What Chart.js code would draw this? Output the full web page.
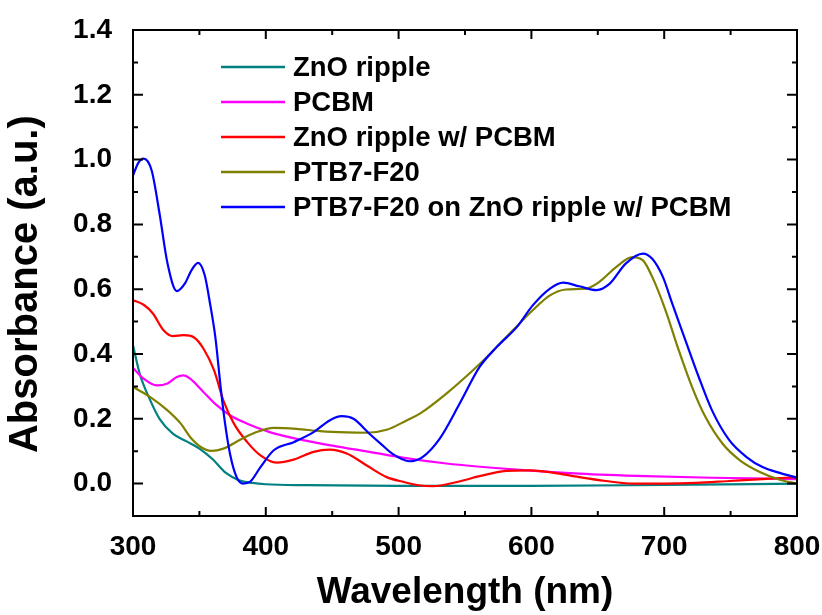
<!DOCTYPE html>
<html><head><meta charset="utf-8">
<script src="https://cdn.jsdelivr.net/npm/chart.js@4.4.1/dist/chart.umd.min.js"></script>
<style>html,body{margin:0;padding:0;background:#fff;} canvas{display:block;}</style>
</head><body>
<canvas id="c" width="822" height="615"></canvas>
<script>
// ---- data ----
const seriesLabels = ["ZnO ripple", "PCBM", "ZnO ripple w/ PCBM", "PTB7-F20", "PTB7-F20 on ZnO ripple w/ PCBM"];
const seriesColors = ["#008080", "#ff00ff", "#ff0000", "#808000", "#0000ff"];

const wlZnO  = [300, 305, 313, 320, 330, 340, 350, 360, 370, 380, 390, 400, 430, 500, 600, 700, 800];
const absZnO = [0.427, 0.34, 0.257, 0.2, 0.154, 0.131, 0.108, 0.075, 0.033, 0.01, 0.002, -0.002, -0.005, -0.007, -0.007, -0.004, 0.0];

const wlPCBM  = [300, 308, 318, 326, 333, 338, 343, 353, 363, 373, 386, 403, 428, 453, 478, 503, 536, 586, 636, 686, 736, 800];
const absPCBM = [0.357, 0.324, 0.303, 0.309, 0.329, 0.334, 0.324, 0.283, 0.242, 0.211, 0.185, 0.159, 0.134, 0.115, 0.098, 0.080, 0.062, 0.044, 0.031, 0.023, 0.018, 0.014];

const wlZnOPCBM  = [300, 308, 315, 323, 330, 338, 346, 353, 361, 368, 376, 386, 396, 408, 421, 436, 448, 461, 476, 491, 504, 515, 526, 544, 561, 581, 599, 616, 636, 656, 676, 699, 724, 749, 774, 800];
const absZnOPCBM = [0.566, 0.552, 0.525, 0.473, 0.455, 0.458, 0.451, 0.417, 0.35, 0.257, 0.185, 0.128, 0.087, 0.065, 0.074, 0.098, 0.105, 0.093, 0.056, 0.020, 0.005, -0.005, -0.008, 0.005, 0.023, 0.039, 0.041, 0.034, 0.02, 0.008, 0.0, 0.0, 0.002, 0.008, 0.014, 0.02];

const wlPTB7  = [300, 313, 326, 336, 343, 351, 359, 368, 381, 393, 406, 423, 441, 461, 476, 491, 506, 516, 536, 556, 569, 586, 601, 614, 626, 641, 651, 664, 676, 684, 691, 701, 711, 721, 731, 744, 757, 772, 787, 800];
const absPTB7 = [0.298, 0.267, 0.226, 0.185, 0.144, 0.113, 0.101, 0.108, 0.136, 0.159, 0.172, 0.169, 0.162, 0.158, 0.157, 0.166, 0.195, 0.216, 0.278, 0.35, 0.401, 0.473, 0.535, 0.581, 0.599, 0.602, 0.622, 0.669, 0.699, 0.689, 0.638, 0.535, 0.411, 0.298, 0.206, 0.123, 0.072, 0.036, 0.012, 0.0];

const wlStack  = [300, 304, 308, 314, 320, 326, 333, 339, 344, 349, 354, 358, 362, 366, 369, 373, 378, 383, 388, 396, 406, 421, 436, 448, 457, 466, 478, 486, 496, 508, 518, 531, 546, 561, 574, 589, 601, 614, 624, 636, 649, 659, 671, 684, 691, 699, 706, 716, 726, 736, 749, 762, 774, 787, 800];
const absStack = [0.951, 0.99, 1.003, 0.967, 0.833, 0.679, 0.594, 0.617, 0.658, 0.681, 0.643, 0.556, 0.452, 0.298, 0.195, 0.093, 0.020, 0.0, 0.005, 0.051, 0.103, 0.128, 0.159, 0.195, 0.208, 0.20, 0.154, 0.125, 0.09, 0.069, 0.082, 0.139, 0.247, 0.36, 0.422, 0.483, 0.55, 0.602, 0.62, 0.609, 0.597, 0.617, 0.679, 0.71, 0.694, 0.638, 0.556, 0.442, 0.329, 0.226, 0.134, 0.082, 0.051, 0.033, 0.018];

const xMajorTicks = [300, 400, 500, 600, 700, 800];
const xMinorTicks = [350, 450, 550, 650, 750];
const yMajorTicks = [0.0, 0.2, 0.4, 0.6, 0.8, 1.0, 1.2, 1.4];
const yMinorTicks = [0.1, 0.3, 0.5, 0.7, 0.9, 1.1, 1.3];

const xTitle = "Wavelength (nm)";
const yTitle = "Absorbance (a.u.)";

// ---- build ----
const FONT = "'Liberation Sans', Arial, Helvetica, sans-serif";
const pairs = [[wlZnO, absZnO], [wlPCBM, absPCBM], [wlZnOPCBM, absZnOPCBM], [wlPTB7, absPTB7], [wlStack, absStack]];
const datasets = pairs.map((p, i) => ({
  label: seriesLabels[i],
  data: p[0].map((x, k) => ({x: x, y: p[1][k]})),
  borderColor: seriesColors[i],
  backgroundColor: seriesColors[i],
  borderWidth: 2.2,
  pointRadius: 0,
  fill: false,
  cubicInterpolationMode: 'monotone',
  order: 5 - i
}));

const framePlugin = {
  id: 'frame',
  afterDatasetsDraw(chart) {
    const {ctx, chartArea: a, scales} = chart;
    const xs = scales.x, ys = scales.y;
    ctx.save();
    ctx.strokeStyle = '#000';
    ctx.lineWidth = 2;
    ctx.strokeRect(a.left, a.top, a.right - a.left, a.bottom - a.top);
    const tick = (vals, len, isX) => {
      vals.forEach(v => {
        ctx.beginPath();
        if (isX) {
          const p = xs.getPixelForValue(v);
          ctx.moveTo(p, a.bottom); ctx.lineTo(p, a.bottom - len);
          ctx.moveTo(p, a.top); ctx.lineTo(p, a.top + len);
        } else {
          const p = ys.getPixelForValue(v);
          ctx.moveTo(a.left, p); ctx.lineTo(a.left + len, p);
          ctx.moveTo(a.right, p); ctx.lineTo(a.right - len, p);
        }
        ctx.stroke();
      });
    };
    tick(xMajorTicks, 9, true);
    tick(xMinorTicks, 5, true);
    tick(yMajorTicks, 10, false);
    tick(yMinorTicks, 5, false);
    ctx.restore();
  }
};

const legendPlugin = {
  id: 'customLegend',
  afterDraw(chart) {
    const ctx = chart.ctx;
    ctx.save();
    ctx.font = "bold 27.5px " + FONT;
    ctx.textBaseline = 'middle';
    ctx.textAlign = 'left';
    chart.data.datasets.forEach((ds, i) => {
      const y = 67 + i * 35;
      ctx.strokeStyle = ds.borderColor;
      ctx.lineWidth = 2.5;
      ctx.beginPath();
      ctx.moveTo(221, y); ctx.lineTo(285, y);
      ctx.stroke();
      ctx.fillStyle = '#000';
      ctx.fillText(ds.label, 293, y + 1);
    });
    ctx.restore();
  }
};

new Chart(document.getElementById('c'), {
  type: 'line',
  data: { datasets: datasets },
  options: {
    responsive: false,
    animation: false,
    devicePixelRatio: 1,
    layout: { padding: { top: 30, right: 25, left: 0, bottom: 0 } },
    plugins: { legend: { display: false }, tooltip: { enabled: false } },
    scales: {
      x: {
        type: 'linear', min: 300, max: 800,
        grid: { display: false },
        border: { display: false },
        afterBuildTicks: s => { s.ticks = xMajorTicks.map(v => ({value: v})); },
        afterFit: s => { s.height = 99; s.paddingLeft = 0; s.paddingRight = 0; },
        ticks: { color: '#000', padding: 6, font: { family: FONT, size: 28, weight: 'bold' }, maxRotation: 0, callback: v => String(v) },
        title: { display: true, text: xTitle, color: '#000', padding: { top: 0, bottom: 0 }, font: { family: FONT, size: 37, weight: 'bold' } }
      },
      y: {
        type: 'linear', min: -0.1, max: 1.4,
        grid: { display: false },
        border: { display: false },
        afterBuildTicks: s => { s.ticks = yMajorTicks.map(v => ({value: v})); },
        afterFit: s => { s.width = 133; s.paddingTop = 0; s.paddingBottom = 0; },
        ticks: { color: '#000', padding: 13, font: { family: FONT, size: 28, weight: 'bold' }, callback: v => Number(v).toFixed(1) },
        title: { display: true, text: yTitle + "  ", color: '#000', padding: { top: 2, bottom: 0 }, font: { family: FONT, size: 40, weight: 'bold' } }
      }
    }
  },
  plugins: [framePlugin, legendPlugin]
});
</script></body></html>
